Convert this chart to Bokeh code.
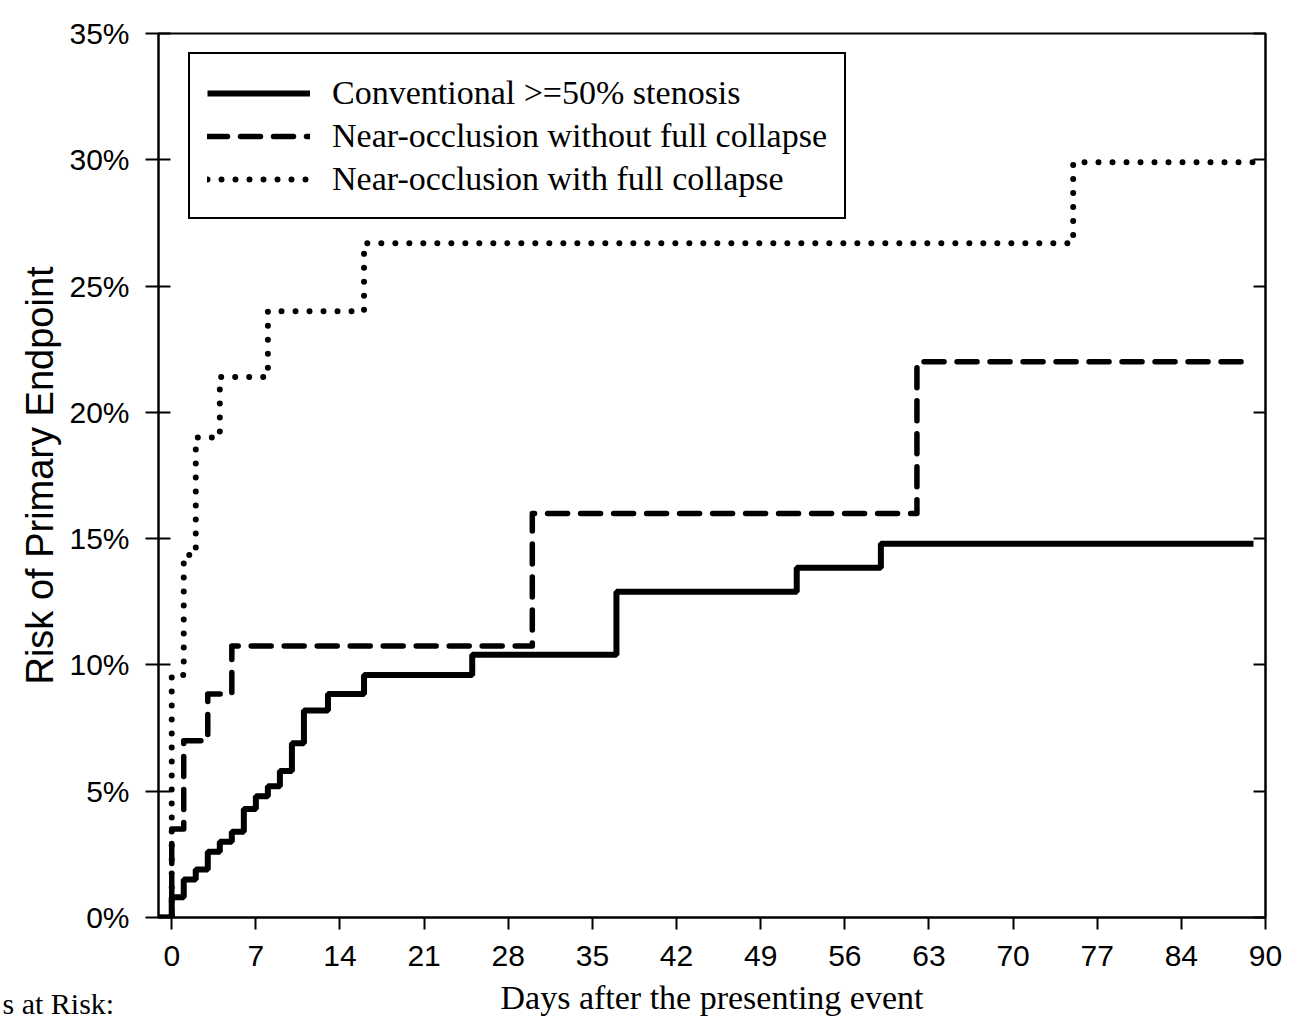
from bokeh.plotting import figure
from bokeh.models import FixedTicker, LinearAxis, Legend, LegendItem, Label, Range1d
from bokeh.embed import file_html
from bokeh.resources import INLINE

# ---- data ----
days_conv = [-1, 0, 1, 2, 3, 4, 5, 6, 7, 8, 9, 10, 11, 13, 16, 25, 37, 52, 59, 90]
risk_conv = [0, 0.8, 1.5, 1.9, 2.6, 3.0, 3.4, 4.3, 4.8, 5.2, 5.8, 6.9, 8.2, 8.85, 9.6, 10.4, 12.9, 13.85, 14.8, 14.8]

days_noc = [-1, 0, 1, 3, 5, 30, 62, 90]
risk_noc = [0, 3.5, 7.0, 8.85, 10.75, 16.0, 22.0, 22.0]

days_full = [-1, 0, 1, 2, 4, 8, 16, 75, 90]
risk_full = [0, 9.6, 14.35, 19.0, 21.4, 24.0, 26.7, 29.9, 29.9]

series_names = ["Conventional >=50% stenosis",
                "Near-occlusion without full collapse",
                "Near-occlusion with full collapse"]

x_ticks = [0, 7, 14, 21, 28, 35, 42, 49, 56, 63, 70, 77, 84, 91]
x_tick_labels = ["0", "7", "14", "21", "28", "35", "42", "49", "56", "63", "70", "77", "84", "90"]
y_ticks = [0, 5, 10, 15, 20, 25, 30, 35]
y_tick_labels = ["0%", "5%", "10%", "15%", "20%", "25%", "30%", "35%"]

SANS = "Liberation Sans"
SERIF = "Liberation Serif"

p = figure(frame_width=1107, frame_height=884,
           x_range=Range1d(-1.1, 91), y_range=Range1d(0, 35),
           output_backend="svg", toolbar_location=None,
           min_border_left=158, min_border_top=33, min_border_bottom=100,
           min_border_right=25)
p.xgrid.visible = False
p.ygrid.visible = False
p.outline_line_color = "black"
p.outline_line_width = 2
p.background_fill_color = "white"
p.border_fill_color = "white"

r1 = p.step(days_conv, risk_conv, mode="after", line_width=6, line_color="black")
r2 = p.step(days_noc, risk_noc, mode="after", line_width=5.5, line_color="black",
            line_dash="20 13", line_cap="round", line_join="round")
r3 = p.step(days_full, risk_full, mode="after", line_width=6, line_color="black",
            line_dash="0 14", line_cap="round", line_join="round")

# x axis
xa = p.xaxis[0]
xa.ticker = FixedTicker(ticks=x_ticks)
xa.major_label_overrides = {t: l for t, l in zip(x_ticks, x_tick_labels)}
xa.major_tick_in = 0
xa.major_tick_out = 12
xa.minor_tick_line_color = None
xa.axis_line_width = 2
xa.major_tick_line_width = 2
xa.major_label_standoff = 16
xa.major_label_text_font = SANS
xa.major_label_text_font_size = "30px"
xa.major_label_text_color = "black"
xa.axis_label = "Days after the presenting event"
xa.axis_label_text_font = SERIF
xa.axis_label_text_font_size = "34px"
xa.axis_label_text_font_style = "normal"
xa.axis_label_text_color = "black"
xa.axis_label_standoff = 10

# y axis
ya = p.yaxis[0]
ya.ticker = FixedTicker(ticks=y_ticks)
ya.major_label_overrides = {t: l for t, l in zip(y_ticks, y_tick_labels)}
ya.major_tick_in = 12
ya.major_tick_out = 13
ya.minor_tick_line_color = None
ya.axis_line_width = 2
ya.major_tick_line_width = 2
ya.major_label_standoff = 16
ya.major_label_text_font = SANS
ya.major_label_text_font_size = "30px"
ya.major_label_text_color = "black"
ya.axis_label = "Risk of Primary Endpoint"
ya.axis_label_text_font = SANS
ya.axis_label_text_font_size = "38px"
ya.axis_label_text_font_style = "normal"
ya.axis_label_text_color = "black"
ya.axis_label_standoff = 5

# right axis: inward ticks only, no labels
ra = LinearAxis(ticker=FixedTicker(ticks=y_ticks), major_tick_in=12, major_tick_out=0,
                minor_tick_line_color=None, axis_line_width=2, major_tick_line_width=2,
                major_label_overrides={t: "" for t in y_ticks}, major_label_standoff=0)
p.add_layout(ra, "right")

legend = Legend(items=[LegendItem(label=series_names[0], renderers=[r1]),
                       LegendItem(label=series_names[1], renderers=[r2]),
                       LegendItem(label=series_names[2], renderers=[r3])],
                location=(30, 698), margin=0,
                border_line_color="black", border_line_width=2, border_line_alpha=1,
                background_fill_color="white", background_fill_alpha=1,
                label_text_font=SERIF, label_text_font_size="34px",
                label_text_color="black",
                glyph_width=103, glyph_height=20, label_height=43,
                spacing=0, padding=17, label_standoff=22)
p.add_layout(legend, "center")

# row title at the bottom left; kept in a side panel so it is not clipped to the frame
p.add_layout(Label(x=-156, y=-970, x_units="screen", y_units="screen",
                   text="s at Risk:", text_font=SERIF, text_font_size="30px",
                   text_color="black", text_baseline="alphabetic"), "above")

open("out.html", "w").write(file_html(p, INLINE))
